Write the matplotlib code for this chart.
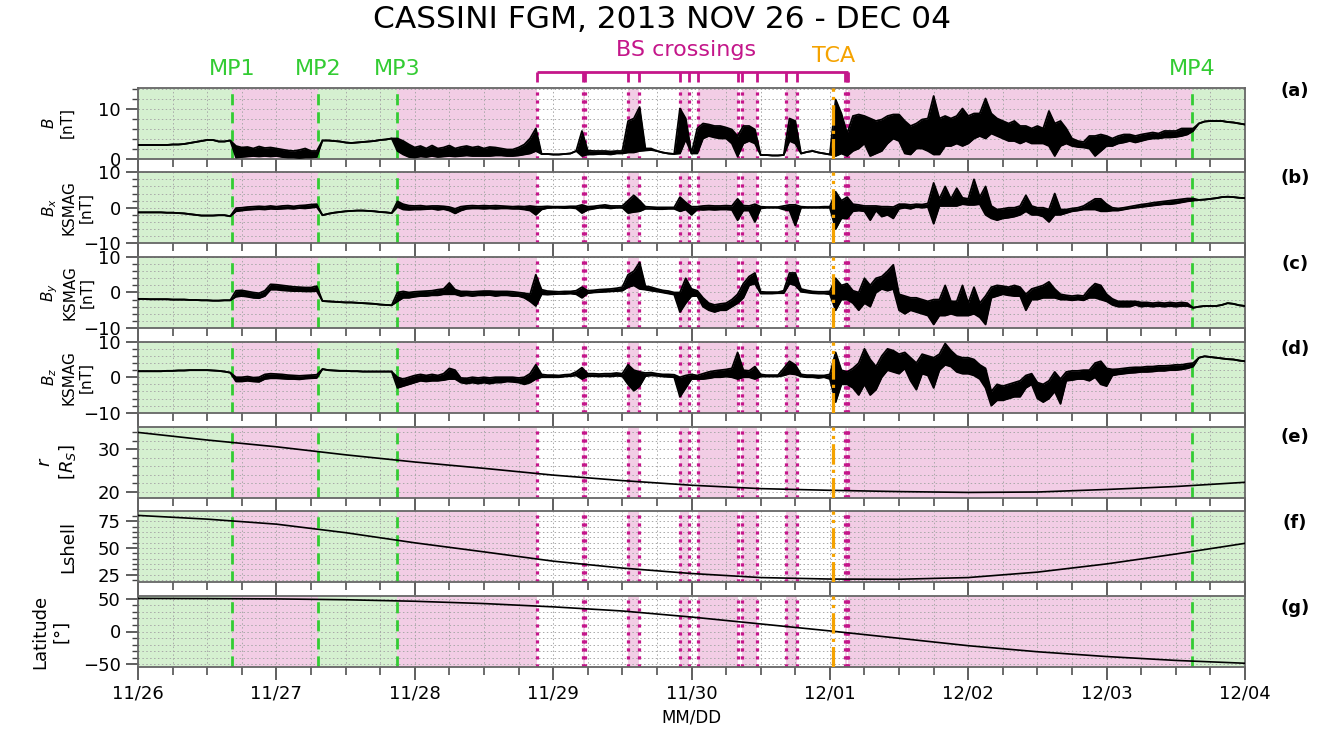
import numpy as np
import matplotlib.pyplot as plt
from matplotlib.ticker import MultipleLocator

# time axis: days since 2013-11-26 00:00, magnetometer envelope read hourly
hours = np.arange(193)
t = hours / 24.0
day_labels = ["11/26", "11/27", "11/28", "11/29", "11/30", "12/01", "12/02", "12/03", "12/04"]

# |B| envelope (low / high), nT
B_lo = [
    2.7, 2.7, 2.7, 2.7, 2.7, 2.7, 2.8, 2.8, 2.9, 3.1, 3.3, 3.5, 3.7, 3.7, 3.4, 3.4, 3.6, 0.2, 0.3, 0.4, 0.5, 0.4, 0.5, 0.4,
    0.5, 0.3, 0.2, 0.2, 0.1, 0.2, 0.2, 0.3, 3.6, 3.6, 3.5, 3.4, 3.2, 3.1, 3.2, 3.3, 3.4, 3.5, 3.7, 3.8, 4.0, 1.5, 0.8, 0.3,
    0.2, 0.4, 0.3, 0.5, 0.3, 0.4, 0.5, 0.4, 0.5, 0.6, 0.5, 0.5, 0.5, 0.5, 0.6, 0.6, 0.5, 0.5, 0.6, 0.8, 1.0, 1.5, 0.9, 0.9,
    0.8, 0.8, 0.9, 1.0, 1.5, 0.5, 0.8, 0.8, 0.9, 0.9, 0.8, 1.0, 1.0, 1.2, 1.2, 1.5, 1.6, 1.7, 1.5, 1.2, 1.0, 0.9, 1.0, 3.8,
    1.0, 1.0, 4.0, 4.5, 4.2, 4.0, 4.0, 3.0, 0.4, 3.0, 3.5, 3.0, 0.7, 0.7, 0.6, 0.6, 0.7, 3.5, 3.0, 1.0, 1.3, 1.5, 1.2, 1.0,
    0.8, 0.5, 1.0, 0.5, 1.5, 2.0, 3.0, 0.5, 1.0, 1.5, 3.0, 4.0, 3.5, 1.0, 0.8, 2.0, 2.0, 1.5, 0.8, 0.8, 2.5, 2.5, 3.0, 2.5,
    3.0, 4.0, 4.5, 4.0, 5.0, 4.5, 4.0, 3.5, 3.5, 3.0, 3.5, 3.0, 3.0, 3.0, 2.5, 0.5, 2.5, 3.0, 2.5, 2.3, 2.2, 2.0, 0.5, 1.5,
    2.5, 2.5, 3.0, 3.2, 3.5, 3.2, 3.5, 3.8, 4.0, 4.0, 4.2, 4.2, 4.3, 4.5, 4.8, 5.5, 7.0, 7.4, 7.5, 7.5, 7.5, 7.3, 7.2, 7.0,
    6.8]
B_hi = [
    2.7, 2.7, 2.7, 2.7, 2.7, 2.7, 2.8, 2.8, 2.9, 3.1, 3.3, 3.5, 3.7, 3.7, 3.4, 3.4, 3.6, 2.5, 2.2, 2.3, 2.0, 2.4, 2.1, 2.2,
    2.0, 1.8, 1.6, 1.5, 1.7, 2.0, 1.5, 1.5, 3.6, 3.6, 3.5, 3.4, 3.2, 3.1, 3.2, 3.3, 3.4, 3.5, 3.7, 3.8, 4.0, 4.0, 3.5, 2.8,
    2.2, 2.5, 2.0, 2.6, 2.0, 2.2, 2.6, 2.0, 2.3, 2.5, 2.2, 2.4, 2.0, 2.3, 2.2, 2.0, 1.8, 1.8, 2.2, 2.8, 4.0, 6.0, 0.9, 0.9,
    0.8, 0.8, 0.9, 1.0, 1.5, 5.5, 1.6, 1.5, 1.5, 1.5, 1.4, 1.5, 1.5, 7.5, 8.0, 10.3, 2.0, 2.0, 1.5, 1.2, 1.0, 0.9, 10.0, 8.0,
    1.0, 6.0, 7.0, 6.8, 6.5, 6.5, 6.2, 5.8, 4.5, 6.5, 6.5, 5.8, 0.7, 0.7, 0.6, 0.6, 0.7, 8.0, 7.5, 1.0, 1.3, 1.5, 1.2, 1.0,
    0.8, 11.8, 9.0, 5.0, 8.5, 8.8, 8.5, 8.0, 7.5, 7.8, 8.5, 8.8, 8.8, 7.5, 6.5, 7.0, 7.8, 8.0, 12.5, 8.0, 8.5, 8.0, 8.5, 10.0,
    8.5, 9.0, 9.0, 12.0, 9.0, 8.0, 7.5, 7.0, 7.5, 6.5, 6.5, 6.0, 6.5, 6.0, 9.5, 7.0, 7.5, 6.0, 4.0, 3.5, 3.3, 4.5, 4.5, 4.8,
    4.5, 4.0, 4.5, 4.8, 4.8, 4.5, 4.8, 5.0, 5.2, 5.0, 5.5, 5.5, 5.5, 6.0, 6.0, 6.0, 7.0, 7.4, 7.5, 7.5, 7.5, 7.3, 7.2, 7.0,
    6.8]

# Bx KSMAG envelope, nT
Bx_lo = [
    -1.3, -1.3, -1.3, -1.3, -1.3, -1.4, -1.4, -1.5, -1.6, -1.8, -2.0, -2.2, -2.2, -2.2, -2.1, -2.1, -2.4, -1.0, -0.8, -0.6, -0.5, -0.4, -0.5, -0.3,
    -0.4, -0.3, -0.2, -0.3, -0.1, -0.2, 0.0, 0.2, -2.1, -1.7, -1.4, -1.2, -1.0, -0.9, -0.8, -0.8, -0.9, -1.0, -1.2, -1.3, -1.5, 0.2, -0.5, -0.6,
    -0.5, -0.5, -0.4, -0.3, -0.6, -0.4, -0.8, -1.6, -0.8, -0.3, -0.2, -0.2, -0.3, -0.2, -0.3, -0.2, -0.2, -0.3, -0.3, -0.5, -0.8, -2.0, -0.5, -0.1,
    0.0, 0.0, -0.1, 0.0, -0.2, -1.5, -0.6, -0.3, 0.0, 0.0, -0.2, 0.0, 0.0, -1.5, -1.2, -1.0, -0.3, -0.3, -0.4, -0.4, -0.3, -0.3, -1.0, -0.5,
    -2.0, -0.5, -0.6, -0.5, -0.6, -0.5, -0.5, -0.6, -3.5, -0.8, -0.8, -4.0, -0.2, 0.0, 0.0, 0.0, -0.5, -0.8, -5.0, 0.0, 0.0, 0.0, 0.0, 0.0,
    0.0, -6.0, -3.0, -3.0, -1.0, -0.8, -1.0, -3.5, -0.8, -2.5, -2.0, -3.0, -0.3, 0.0, -0.3, 0.2, 0.0, 0.2, -4.5, 0.5, 0.5, 0.5, 0.5, 1.0,
    0.8, 0.8, 1.0, -2.0, -3.0, -3.5, -3.0, -2.8, -2.5, -2.0, -1.0, -2.0, -2.0, -2.5, -4.0, -2.0, -2.0, -1.5, -1.0, -0.8, -0.5, -0.5, -0.5, -1.0,
    -1.0, -0.8, -0.8, -0.5, -0.2, 0.0, 0.2, 0.4, 0.6, 0.8, 1.0, 1.0, 1.2, 1.5, 1.8, 2.0, 2.2, 2.3, 2.5, 2.7, 3.0, 3.1, 3.0, 2.8,
    2.7]
Bx_hi = [
    -1.3, -1.3, -1.3, -1.3, -1.3, -1.4, -1.4, -1.5, -1.6, -1.8, -2.0, -2.2, -2.2, -2.2, -2.1, -2.1, -2.4, -0.1, 0.0, 0.2, 0.3, 0.4, 0.3, 0.5,
    0.3, 0.5, 0.6, 0.4, 0.6, 0.7, 0.9, 1.0, -2.1, -1.7, -1.4, -1.2, -1.0, -0.9, -0.8, -0.8, -0.9, -1.0, -1.2, -1.3, -1.5, 1.8, 1.0, 0.6,
    0.5, 0.6, 0.4, 0.5, 0.5, 0.4, 0.2, -0.3, 0.3, 0.5, 0.6, 0.5, 0.6, 0.5, 0.6, 0.5, 0.4, 0.3, 0.4, 0.3, 0.5, 0.3, 0.3, 0.4,
    0.3, 0.3, 0.3, 0.4, 0.4, 0.8, 0.3, 0.4, 0.6, 0.8, 0.5, 0.5, 0.5, 2.0, 3.5, 2.0, 0.3, 0.2, 0.1, 0.1, 0.1, 0.1, 3.0, 1.5,
    0.3, 0.3, 0.5, 0.6, 0.5, 0.5, 0.6, 0.5, 2.5, 0.6, 0.5, 1.0, 0.3, 0.2, 0.2, 0.2, 0.5, 0.8, 0.8, 0.3, 0.2, 0.2, 0.2, 0.3,
    0.3, 4.5, 2.0, 3.0, 1.0, 0.8, 0.5, 0.5, 0.5, 0.3, 0.3, 0.2, 1.0, 1.0, 0.8, 1.0, 0.9, 1.2, 7.0, 2.5, 6.0, 2.5, 5.5, 2.8,
    2.5, 8.0, 3.0, 6.0, 0.5, -0.5, -0.3, 0.0, 0.0, 0.5, 3.5, 0.5, 0.0, 0.0, -0.5, 4.0, -0.5, -0.5, -0.2, 0.0, 0.5, 1.5, 2.5, 2.5,
    1.0, 0.0, -0.2, 0.0, 0.3, 0.6, 0.9, 1.1, 1.4, 1.6, 1.8, 2.0, 2.2, 2.4, 2.6, 2.6, 2.2, 2.3, 2.5, 2.7, 3.0, 3.1, 3.0, 2.8,
    2.7]

# By KSMAG envelope, nT
By_lo = [
    -1.8, -1.8, -1.9, -1.9, -1.9, -1.9, -2.0, -2.0, -2.0, -2.1, -2.1, -2.2, -2.2, -2.3, -2.3, -2.2, -2.2, -1.2, -1.0, -1.2, -1.5, -1.6, -1.0, 0.8,
    0.8, 0.6, 0.5, 0.4, 0.4, 0.3, 0.3, 0.4, -2.4, -2.5, -2.6, -2.7, -2.8, -2.8, -2.9, -3.0, -3.1, -3.2, -3.4, -3.5, -3.6, -2.5, -1.5, -1.5,
    -1.2, -1.0, -1.0, -0.8, -0.8, -0.5, -0.5, -0.5, -1.0, -0.8, -1.0, -0.8, -0.8, -0.7, -1.0, -0.8, -0.8, -1.0, -1.0, -1.5, -2.5, -3.8, -0.5, -0.6,
    -0.5, -0.4, -0.4, -0.3, -0.5, -1.5, -0.2, 0.0, 0.1, 0.2, 0.3, 0.4, 0.5, 1.5, 2.0, 1.0, 0.8, 0.5, 0.3, 0.0, -0.3, -0.6, -5.5, -3.0,
    -1.0, -1.0, -4.0, -5.0, -5.5, -5.0, -5.0, -4.0, -3.0, -1.5, 2.0, 2.5, -0.3, -0.3, -0.3, -0.2, -0.2, 2.5, 2.0, 0.2, 0.0, -0.2, -0.3, -0.3,
    -0.5, -5.0, -2.0, -2.0, -3.0, -5.0, -3.0, -4.0, 0.0, 1.0, 0.5, 1.0, -5.0, -6.0, -5.0, -5.5, -6.0, -6.5, -9.0, -6.5, -6.5, -6.0, -6.5, -6.5,
    -6.5, -6.0, -7.0, -9.0, -1.5, -1.0, -0.5, -0.8, -1.0, -1.0, -5.0, -2.0, -2.0, -1.5, -1.5, -1.5, -2.0, -2.0, -2.2, -2.0, -2.2, -1.5, -1.5, -2.0,
    -2.5, -3.5, -4.0, -4.0, -4.0, -3.5, -4.0, -3.8, -4.0, -3.8, -4.0, -3.8, -4.0, -3.8, -3.8, -4.3, -4.0, -3.8, -3.8, -3.8, -3.5, -3.0, -3.2, -3.6,
    -3.8]
By_hi = [
    -1.8, -1.8, -1.9, -1.9, -1.9, -1.9, -2.0, -2.0, -2.0, -2.1, -2.1, -2.2, -2.2, -2.3, -2.3, -2.2, -2.2, 0.5, 0.6, 0.3, 0.0, -0.2, 0.5, 2.3,
    2.2, 2.0, 1.8, 1.6, 1.5, 1.4, 1.4, 1.8, -2.4, -2.5, -2.6, -2.7, -2.8, -2.8, -2.9, -3.0, -3.1, -3.2, -3.4, -3.5, -3.6, 0.0, 0.3, 0.0,
    0.2, 0.3, 0.4, 0.5, 0.8, 1.0, 2.7, 0.8, 0.3, 0.3, 0.2, 0.3, 0.4, 0.4, 0.3, 0.3, 0.3, 0.2, 0.0, -0.2, -0.5, 5.0, 0.8, 0.4,
    0.3, 0.2, 0.3, 0.3, 0.5, 1.5, 0.5, 0.6, 0.8, 0.9, 1.0, 1.2, 1.5, 5.0, 6.0, 8.5, 1.8, 1.5, 1.0, 0.6, 0.4, 0.0, 0.0, 4.0,
    1.0, 0.5, -1.5, -3.0, -3.5, -3.2, -3.0, -2.0, -0.5, 2.5, 4.5, 5.5, 0.2, 0.1, 0.1, 0.1, 0.5, 5.5, 5.5, 1.0, 0.6, 0.3, 0.2, 0.2,
    0.3, 4.0, 2.0, 2.5, 0.5, 0.0, 4.0, 2.0, 4.0, 4.5, 6.0, 7.8, -0.5, -1.0, -1.5, -1.5, -2.0, -2.5, -2.0, -2.0, 2.0, -2.5, -2.5, 2.0,
    -3.0, 1.5, -3.0, -1.0, 1.5, 2.0, 1.8, 1.5, 2.0, 1.5, -0.5, 1.0, 1.5, 2.0, 3.0, 1.0, -0.5, -0.8, -1.0, -0.8, -1.0, 1.0, 2.5, 2.0,
    -0.5, -1.8, -2.5, -2.5, -2.5, -2.5, -2.8, -2.8, -3.0, -2.8, -3.0, -2.8, -3.0, -2.8, -3.0, -4.3, -4.0, -3.8, -3.8, -3.8, -3.5, -3.0, -3.2, -3.6,
    -3.8]

# Bz KSMAG envelope, nT
Bz_lo = [
    1.7, 1.7, 1.7, 1.7, 1.7, 1.8, 1.8, 1.9, 1.9, 2.0, 2.0, 2.0, 2.0, 1.9, 1.8, 1.6, 1.3, -1.2, -1.2, -1.0, -1.2, -1.3, -0.5, -0.3,
    -0.3, -0.4, -0.5, -0.5, -0.6, -0.4, -0.3, -0.2, 2.3, 2.0, 1.9, 1.8, 1.8, 1.7, 1.7, 1.6, 1.6, 1.6, 1.6, 1.6, 1.6, -3.0, -2.5, -2.0,
    -1.5, -1.0, -1.2, -1.0, -1.0, -0.8, -0.5, -0.5, -1.5, -1.8, -1.5, -1.8, -1.5, -1.8, -1.5, -1.5, -1.2, -1.3, -1.5, -2.0, -1.5, -0.5, 0.0, 0.0,
    0.0, 0.0, 0.2, 0.3, 0.5, -0.5, 0.3, 0.3, 0.2, 0.3, 0.2, 0.4, 0.3, -2.0, -3.8, -2.5, 0.3, 0.5, 0.4, 0.2, 0.1, 0.0, -5.5, -3.0,
    -0.5, -0.5, -0.5, -0.3, 0.0, 0.0, 0.2, 0.0, -0.5, 0.0, 0.0, -0.5, 0.2, 0.2, 0.2, 0.2, 0.5, 1.0, 0.8, 0.2, 0.0, 0.0, -0.2, 0.0,
    -0.5, -7.0, -2.0, -2.0, -3.0, -5.0, -2.0, -5.0, -3.5, 0.0, 2.0, 1.5, 1.0, 2.5, -1.0, -3.5, 1.0, 0.5, -3.0, 2.0, 3.5, 3.0, 1.5, 1.0,
    1.0, 0.5, -0.5, -3.0, -8.0, -6.5, -6.5, -6.0, -5.5, -5.5, -3.0, -2.0, -6.0, -7.0, -6.0, -4.0, -7.5, -1.0, -0.8, -0.5, -0.5, -1.0, 0.0, -2.0,
    -2.5, 0.5, 0.8, 1.0, 1.2, 1.3, 1.5, 1.5, 1.6, 1.8, 1.8, 2.0, 2.0, 2.2, 2.5, 3.0, 5.5, 5.9, 5.7, 5.5, 5.3, 5.1, 5.0, 4.7,
    4.5]
Bz_hi = [
    1.7, 1.7, 1.7, 1.7, 1.7, 1.8, 1.8, 1.9, 1.9, 2.0, 2.0, 2.0, 2.0, 1.9, 1.8, 1.6, 1.3, 0.0, 0.0, 0.2, -0.1, 0.0, 0.8, 1.0,
    0.9, 0.8, 0.6, 0.5, 0.4, 0.5, 0.6, 0.7, 2.3, 2.0, 1.9, 1.8, 1.8, 1.7, 1.7, 1.6, 1.6, 1.6, 1.6, 1.6, 1.6, 0.0, -0.5, 0.0,
    0.5, 0.8, 0.5, 0.8, 0.5, 1.0, 2.5, 2.0, -0.2, -0.3, 0.0, -0.2, 0.0, -0.2, 0.0, 0.0, 0.0, 0.0, -0.2, 0.0, 1.0, 3.5, 0.8, 0.6,
    0.6, 0.5, 0.7, 0.8, 1.5, 2.7, 1.0, 1.0, 0.9, 1.0, 1.0, 1.2, 1.0, 3.5, 2.0, 1.5, 1.2, 1.3, 1.0, 0.8, 0.8, 0.7, 0.0, 0.5,
    0.8, 0.5, 1.0, 1.5, 1.8, 2.0, 2.2, 2.5, 7.0, 2.0, 1.8, 3.0, 0.8, 0.6, 0.6, 0.6, 2.5, 4.5, 3.5, 0.8, 0.6, 0.6, 0.5, 0.5,
    0.8, 7.0, 2.0, 1.5, 2.5, 4.0, 8.0, 5.0, 3.0, 6.0, 8.0, 7.5, 6.5, 7.0, 5.5, 4.0, 6.5, 6.0, 5.5, 6.5, 9.5, 7.5, 6.0, 5.5,
    5.5, 5.0, 3.5, 2.5, -4.0, -2.0, -2.5, -2.0, -1.5, -1.0, 0.5, 1.0, -1.5, -2.0, -1.0, 1.5, -0.5, 1.5, 1.8, 1.8, 2.0, 2.0, 4.0, 4.5,
    2.5, 2.2, 2.3, 2.5, 2.7, 2.8, 2.8, 3.0, 3.0, 3.2, 3.2, 3.3, 3.5, 3.5, 3.8, 4.0, 5.5, 5.9, 5.7, 5.5, 5.3, 5.1, 5.0, 4.7,
    4.5]

# ephemeris, every 12 h
t_eph = np.arange(17) * 0.5
r_vals = [34.0, 32.2, 30.6, 28.7, 27.0, 25.5, 23.9, 22.6, 21.5, 20.7, 20.3, 20.0, 19.8, 19.9, 20.5, 21.2, 22.2]
lshell_vals = [80.7, 77.2, 72.5, 64.5, 55.0, 46.5, 37.8, 31.3, 26.2, 22.4, 21.0, 20.8, 22.4, 27.5, 35.2, 44.5, 54.5]
lat_vals = [50.4, 50.1, 49.6, 48.3, 46.0, 42.5, 37.5, 31.2, 22.0, 11.5, 0.9, -10.3, -21.6, -30.8, -38.1, -44.0, -48.3]

# boundary crossings (days since 11/26)
mp_times = [0.679, 1.301, 1.872, 7.615]
mp_names = ["MP1", "MP2", "MP3", "MP4"]
bs_times = [2.887, 3.216, 3.227, 3.539, 3.623, 3.917, 3.984, 4.045,
            4.338, 4.363, 4.471, 4.683, 4.760, 5.110, 5.122, 5.133]
tca_time = 5.025
msphere = [(0.0, 0.679), (1.301, 1.872), (7.615, 8.0)]
msheath = [(0.679, 1.301), (1.872, 2.887), (3.216, 3.227), (3.539, 3.623),
           (3.917, 3.984), (4.045, 4.338), (4.363, 4.471), (4.683, 4.760),
           (5.110, 5.122), (5.133, 7.615)]

green = "#33cc33"
magenta = "#c4168a"
orange = "#f5a300"

W, H = 1325, 730
fig = plt.figure(figsize=(W / 100, H / 100), dpi=100)

panel_h = 71
tops = [87.5 + i * 84.75 for i in range(7)]
axes = []
for top in tops:
    ax = fig.add_axes([138 / W, 1 - (top + panel_h) / H, 1107 / W, panel_h / H],
                      sharex=axes[0] if axes else None)
    axes.append(ax)


def draw_band(ax, lo, hi):
    ax.fill_between(t, lo, hi, color="k", lw=0, zorder=3)
    ax.plot(t, lo, color="k", lw=1.3, zorder=3)
    ax.plot(t, hi, color="k", lw=1.3, zorder=3)


draw_band(axes[0], B_lo, B_hi)
draw_band(axes[1], Bx_lo, Bx_hi)
draw_band(axes[2], By_lo, By_hi)
draw_band(axes[3], Bz_lo, Bz_hi)
axes[4].plot(t_eph, r_vals, color="k", lw=1.2, zorder=3)
axes[5].plot(t_eph, lshell_vals, color="k", lw=1.2, zorder=3)
axes[6].plot(t_eph, lat_vals, color="k", lw=1.2, zorder=3)

ylims = [(0, 14.2), (-10, 10), (-10, 10), (-10, 10), (18.6, 35.4), (18, 84.6), (-54, 54)]
yticks = [[0, 10], [-10, 0, 10], [-10, 0, 10], [-10, 0, 10], [20, 30], [25, 50, 75], [-50, 0, 50]]
yminor = [2, 2, 2, 2, 2, 5, 10]
panel_tags = ["(a)", "(b)", "(c)", "(d)", "(e)", "(f)", "(g)"]
tag_y = [91, 178, 264, 349, 437, 523, 608]

for i, ax in enumerate(axes):
    for a, b in msphere:
        ax.axvspan(a, b, color="#d5f0d0", lw=0, zorder=0)
    for a, b in msheath:
        ax.axvspan(a, b, color="#f2cde5", lw=0, zorder=0)
    for tm in mp_times:
        ax.axvline(tm, color=green, ls=(0, (4, 2.5)), lw=2, zorder=2)
    for tm in bs_times:
        ax.axvline(tm, color=magenta, ls=(0, (1, 1.5)), lw=2.3, zorder=2)
    ax.axvline(tca_time, color=orange, ls="-.", lw=2.3, zorder=4)

    ax.set_ylim(*ylims[i])
    ax.set_yticks(yticks[i])
    ax.yaxis.set_minor_locator(MultipleLocator(yminor[i]))
    ax.xaxis.set_minor_locator(MultipleLocator(0.25))
    ax.grid(True, which="both", color="#a8a8a8", ls=(0, (1.5, 2.5)), lw=0.7)
    ax.tick_params(which="major", direction="out", length=9, width=1.2,
                   color="#444444", labelsize=13)
    ax.tick_params(axis="x", which="minor", direction="out", length=5.5, width=1.1, color="#444444")
    ax.tick_params(axis="y", which="minor", direction="out", length=4, width=1.0, color="#444444")
    for s in ax.spines.values():
        s.set_color("#666666")
        s.set_linewidth(1.3)
    if i < 6:
        ax.tick_params(labelbottom=False)
    fig.text(1295 / W, 1 - tag_y[i] / H, panel_tags[i], fontsize=13,
             fontweight="bold", ha="center", va="center")

axes[-1].set_xlim(0, 8)
axes[-1].set_xticks(range(9))
axes[-1].set_xticklabels(day_labels)

# y labels
ylabels = ["$B$\n[nT]", "$B_x$\nKSMAG\n[nT]", "$B_y$\nKSMAG\n[nT]", "$B_z$\nKSMAG\n[nT]",
           "$r$\n$[R_S]$", "Lshell", "Latitude\n[°]"]
ylab_x = [58, 67, 67, 67, 57, 68, 51]
ylab_size = [11, 11, 11, 11, 13, 13, 13]
for i, lab in enumerate(ylabels):
    fig.text(ylab_x[i] / W, 1 - (tops[i] + panel_h / 2) / H, lab, rotation=90,
             ha="center", va="center", multialignment="center", fontsize=ylab_size[i])

# event annotations above panel (a)
trans = axes[0].get_xaxis_transform()
for name, tm in zip(mp_names, mp_times):
    axes[0].text(tm, 1.26, name, transform=trans, color=green, fontsize=16,
                 ha="center", va="center")
axes[0].plot([bs_times[0], bs_times[-1]], [1.214, 1.214], transform=trans,
             color=magenta, lw=2, clip_on=False, solid_capstyle="butt")
for tm in bs_times:
    axes[0].plot([tm, tm], [1.214, 1.082], transform=trans, color=magenta,
                 lw=2, clip_on=False, solid_capstyle="butt")
axes[0].text(3.96, 1.53, "BS crossings", transform=trans, color=magenta,
             fontsize=16, ha="center", va="center")
axes[0].text(tca_time, 1.44, "TCA", transform=trans, color=orange,
             fontsize=16, ha="center", va="center")

fig.text(0.5, 1 - 20 / H, "CASSINI FGM, 2013 NOV 26 - DEC 04", fontsize=22.5,
         ha="center", va="center")
fig.text(691.5 / W, 1 - 718 / H, "MM/DD", fontsize=12, ha="center", va="center")

fig.savefig("out.png", dpi=100)
